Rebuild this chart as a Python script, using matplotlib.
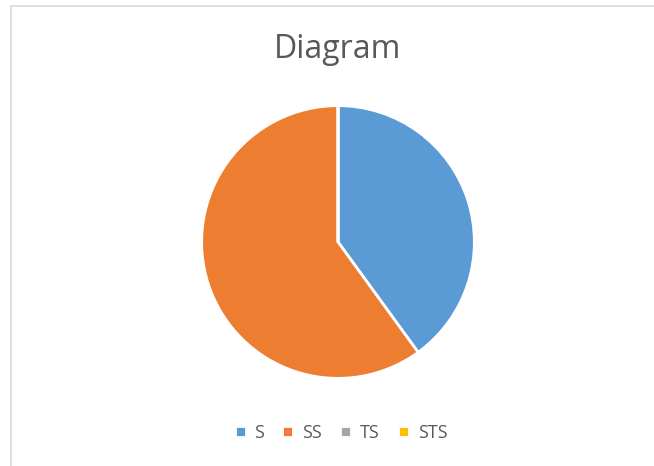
import matplotlib.pyplot as plt
from matplotlib.lines import Line2D

labels = ["S", "SS", "TS", "STS"]
values = [40, 60, 0, 0]
colors = ["#5B9BD5", "#ED7D31", "#A5A5A5", "#FFC000"]

plt.rcParams['font.family'] = ['Open Sans', 'DejaVu Sans']

fig = plt.figure(figsize=(6.54, 4.66), dpi=100)

# chart border (light gray frame, cut off at right/bottom)
fig.add_artist(Line2D([10.5 / 654, 10.5 / 654], [0, 1 - 5.5 / 466],
                      transform=fig.transFigure, color="#D9D9D9", lw=1.2))
fig.add_artist(Line2D([10.5 / 654, 1], [1 - 5.5 / 466, 1 - 5.5 / 466],
                      transform=fig.transFigure, color="#D9D9D9", lw=1.2))

cx, cy, r = 338, 242, 135
ax = fig.add_axes([(cx - r) / 654, 1 - (cy + r) / 466, 2 * r / 654, 2 * r / 466])
wedges, _ = ax.pie(values, colors=colors, startangle=90, counterclock=False,
                   wedgeprops=dict(edgecolor="white", linewidth=2))
ax.set_xlim(-0.99, 0.99)
ax.set_ylim(-0.99, 0.99)
ax.set_aspect("equal")

fig.text(338 / 654, 1 - 50 / 466, "Diagram", ha="center", va="center",
         fontsize=23, color="#595959")

fig.legend(wedges, labels, loc="center", bbox_to_anchor=(341 / 654, 1 - 433 / 466),
           ncol=4, frameon=False, fontsize=13, handlelength=0.6, handleheight=0.6,
           handletextpad=0.5, columnspacing=1.0, labelcolor="#595959")

fig.savefig("out.png", dpi=100)
